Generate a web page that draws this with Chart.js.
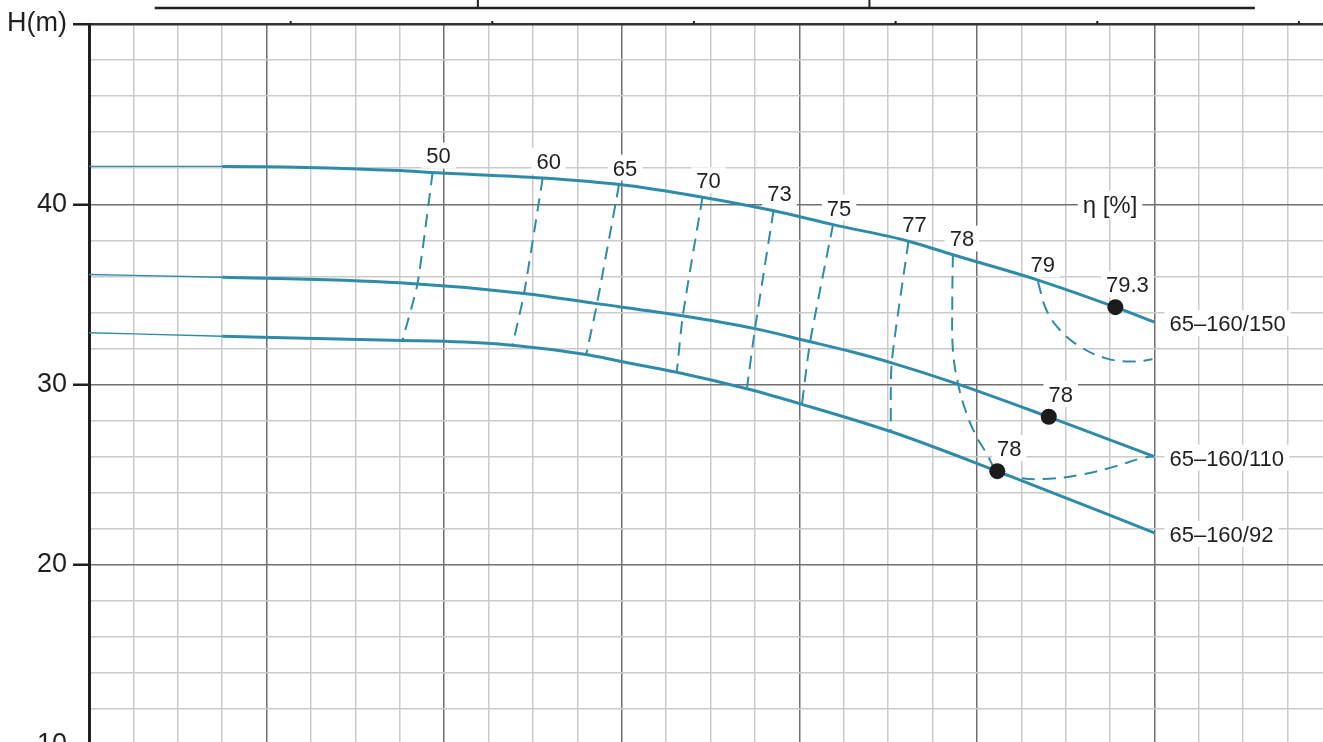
<!DOCTYPE html>
<html>
<head>
<meta charset="utf-8">
<script src="https://cdn.jsdelivr.net/npm/chart.js@4.4.1/dist/chart.umd.min.js"></script>
<style>
  html, body { margin: 0; padding: 0; background: #fff; overflow: hidden; }
  #wrap { position: absolute; left: 0; top: 0; width: 1340px; height: 800px; }
</style>
</head>
<body>
<div id="wrap"><canvas id="pumpChart" width="1340" height="800"></canvas></div>
<script>
// Q in m3/h, H in m
const curveNames = ['65–160/150', '65–160/110', '65–160/92'];

const q150 = [0, 15, 35, 38.7, 51.1, 59.8, 69.1, 77, 83.8, 92.3, 97.2, 106.7, 115.6, 120];
const h150 = [42.1, 42.1, 41.87, 41.76, 41.46, 41.09, 40.39, 39.65, 38.87, 37.95, 37.21, 35.82, 34.29, 33.46];

const q110 = [0, 15, 35, 49, 57, 67, 75, 81, 86, 90.4, 97.7, 108.1, 120];
const h110 = [36.1, 35.95, 35.64, 35.05, 34.5, 33.8, 33.1, 32.4, 31.8, 31.2, 30.05, 28.2, 26.0];

const q92 = [0, 15, 35.3, 40, 47.7, 56, 59.8, 66.2, 74.1, 80.3, 90.3, 102.3, 120];
const h92 = [32.87, 32.68, 32.44, 32.4, 32.18, 31.66, 31.29, 30.68, 29.76, 28.9, 27.39, 25.19, 21.77];

// iso-efficiency lines, points from top curve down to bottom curve
const isoLabels = ['50', '60', '65', '70', '73', '75', '77'];
const isoQ = [
  [38.7, 37.0, 35.3],
  [51.1, 49.0, 47.7],
  [59.7, 57.2, 56.0],
  [69.1, 66.9, 66.2],
  [77.1, 75.0, 74.1],
  [83.8, 81.2, 80.3],
  [92.3, 90.4, 90.3]
];
const isoH = [
  [41.76, 35.6, 32.44],
  [41.46, 35.05, 32.18],
  [41.09, 34.44, 31.66],
  [40.39, 33.88, 30.68],
  [39.65, 33.05, 29.76],
  [38.87, 32.31, 28.9],
  [37.95, 31.19, 27.39]
];

const eta78Q = [97.3, 97.23, 97.3, 97.86, 98.81, 99.93, 101.06, 102.36, 104.81, 108.18, 111.9, 115.69, 118.31, 119.78];
const eta78H = [37.21, 34.34, 31.94, 30.09, 28.43, 27.13, 26.21, 25.19, 24.82, 24.77, 25.01, 25.47, 25.88, 26.02];

const eta79Q = [106.87, 107.81, 109.31, 111.56, 114.57, 117.53, 119.78];
const eta79H = [35.73, 34.16, 33.05, 32.12, 31.45, 31.27, 31.4];

// best efficiency points
const bepQ = [115.6, 108.1, 102.3];
const bepH = [34.29, 28.21, 25.19];
const bepLabels = ['79.3', '78', '78'];

const etaTitle = 'η [%]';
const etaTitleQ = 115;
const etaTitleH = 40;

// bits of the neighbouring panel above the chart
const frameQ = [7.4, 131.3];
const frameTickQ = [43.8, 87.9];
const gpmTicks = [100, 200, 300, 400, 500, 600];

const teal = '#2f8ca8';
const ink = '#231f20';
const gridLight = '#cbcbcb';
const gridDark = '#6f6f6f';
const family = '"Liberation Sans", Arial, sans-serif';

function pts(qs, hs) {
  return qs.map((q, i) => ({ x: q, y: hs[i] }));
}

const datasets = [];

datasets.push({
  data: pts(bepQ, bepH),
  showLine: false,
  pointRadius: 8,
  pointBackgroundColor: '#1b1b1b',
  pointBorderWidth: 0
});

[[q150, h150], [q110, h110], [q92, h92]].forEach(c => {
  datasets.push({
    data: pts(c[0], c[1]),
    showLine: true,
    borderColor: teal,
    borderWidth: 3,
    pointRadius: 0,
    cubicInterpolationMode: 'monotone',
    segment: {
      borderWidth: ctx => (ctx.p1.parsed.x <= 15 ? 1.4 : 3)
    }
  });
});

const dashed = (data, tension) => ({
  data: data,
  showLine: true,
  borderColor: teal,
  borderWidth: 2,
  borderDash: [13, 8],
  pointRadius: 0,
  tension: tension
});

isoQ.forEach((qs, i) => datasets.push(dashed(pts(qs, isoH[i]), 0.2)));
datasets.push(dashed(pts(eta78Q, eta78H), 0.4));
datasets.push(dashed(pts(eta79Q, eta79H), 0.4));

const labelPlugin = {
  id: 'pumpLabels',
  beforeDatasetsDraw(chart) {
    const { ctx, scales: { x, y } } = chart;
    ctx.save();
    const tag = (text, px, py, size, align) => {
      ctx.font = size + 'px ' + family;
      const w = ctx.measureText(text).width;
      const h = size * 0.72;
      const left = align === 'left' ? px : px - w / 2;
      ctx.fillStyle = '#fff';
      ctx.fillRect(left - 5, py - h / 2 - 5, w + 10, h + 10);
      ctx.fillStyle = ink;
      ctx.textAlign = 'left';
      ctx.textBaseline = 'alphabetic';
      ctx.fillText(text, left, py + h / 2);
    };

    isoLabels.forEach((t, i) => {
      tag(t, x.getPixelForValue(isoQ[i][0]) + 6, y.getPixelForValue(isoH[i][0]) - 17, 22);
    });
    tag('78', x.getPixelForValue(eta78Q[0]) + 9, y.getPixelForValue(eta78H[0]) - 16, 22);
    tag('79', x.getPixelForValue(eta79Q[0]) + 5, y.getPixelForValue(eta79H[0]) - 17, 22);

    bepLabels.forEach((t, i) => {
      tag(t, x.getPixelForValue(bepQ[i]) + 12, y.getPixelForValue(bepH[i]) - 23, 22);
    });

    const ends = [[q150, h150], [q110, h110], [q92, h92]];
    ends.forEach((c, i) => {
      const n = c[0].length - 1;
      tag(curveNames[i], x.getPixelForValue(c[0][n]) + 15, y.getPixelForValue(c[1][n]) + 1, 22, 'left');
    });

    tag(etaTitle, x.getPixelForValue(etaTitleQ), y.getPixelForValue(etaTitleH), 24);
    ctx.restore();
  },
  afterDraw(chart) {
    const { ctx, chartArea, scales: { x } } = chart;
    const top = chartArea.top;
    ctx.save();
    ctx.strokeStyle = ink;
    ctx.lineWidth = 2.5;
    ctx.beginPath();
    ctx.moveTo(x.getPixelForValue(frameQ[0]), top - 16);
    ctx.lineTo(x.getPixelForValue(frameQ[1]), top - 16);
    ctx.stroke();
    ctx.lineWidth = 2;
    frameTickQ.forEach(q => {
      const px = x.getPixelForValue(q);
      ctx.beginPath();
      ctx.moveTo(px, top - 16);
      ctx.lineTo(px, 0);
      ctx.stroke();
    });
    gpmTicks.forEach(g => {
      const px = x.getPixelForValue(g / 4.403);
      ctx.beginPath();
      ctx.moveTo(px, top);
      ctx.lineTo(px, top - 3);
      ctx.stroke();
    });
    ctx.restore();
  }
};

new Chart(document.getElementById('pumpChart'), {
  type: 'scatter',
  data: { datasets: datasets },
  options: {
    responsive: false,
    animation: false,
    devicePixelRatio: 1,
    layout: { padding: { top: 24, right: 7, bottom: 55, left: 0 } },
    plugins: {
      legend: { display: false },
      tooltip: { enabled: false }
    },
    scales: {
      x: {
        type: 'linear',
        min: 0,
        max: 140,
        ticks: { display: false, stepSize: 5 },
        grid: {
          drawTicks: false,
          lineWidth: 1.5,
          color: c => (c.tick && c.tick.value % 20 === 0 ? gridDark : gridLight)
        },
        border: { display: false }
      },
      y: {
        type: 'linear',
        min: 10,
        max: 50,
        afterFit: s => { s.width = 89; },
        ticks: {
          stepSize: 2,
          autoSkip: false,
          padding: 6,
          color: ink,
          font: { size: 27, family: family },
          callback: v => (v === 50 ? 'H(m)' : (v % 10 === 0 ? v : ''))
        },
        grid: {
          tickLength: 16,
          tickWidth: 2.5,
          tickColor: c => (c.tick && c.tick.value % 10 === 0 ? ink : 'rgba(0,0,0,0)'),
          lineWidth: c => (c.tick && c.tick.value === 50 ? 2.5 : 1.5),
          color: c => {
            if (!c.tick) return gridLight;
            if (c.tick.value === 50) return '#333';
            return c.tick.value % 10 === 0 ? gridDark : gridLight;
          }
        },
        border: { color: ink, width: 3 }
      }
    }
  },
  plugins: [labelPlugin]
});
</script>
</body>
</html>
